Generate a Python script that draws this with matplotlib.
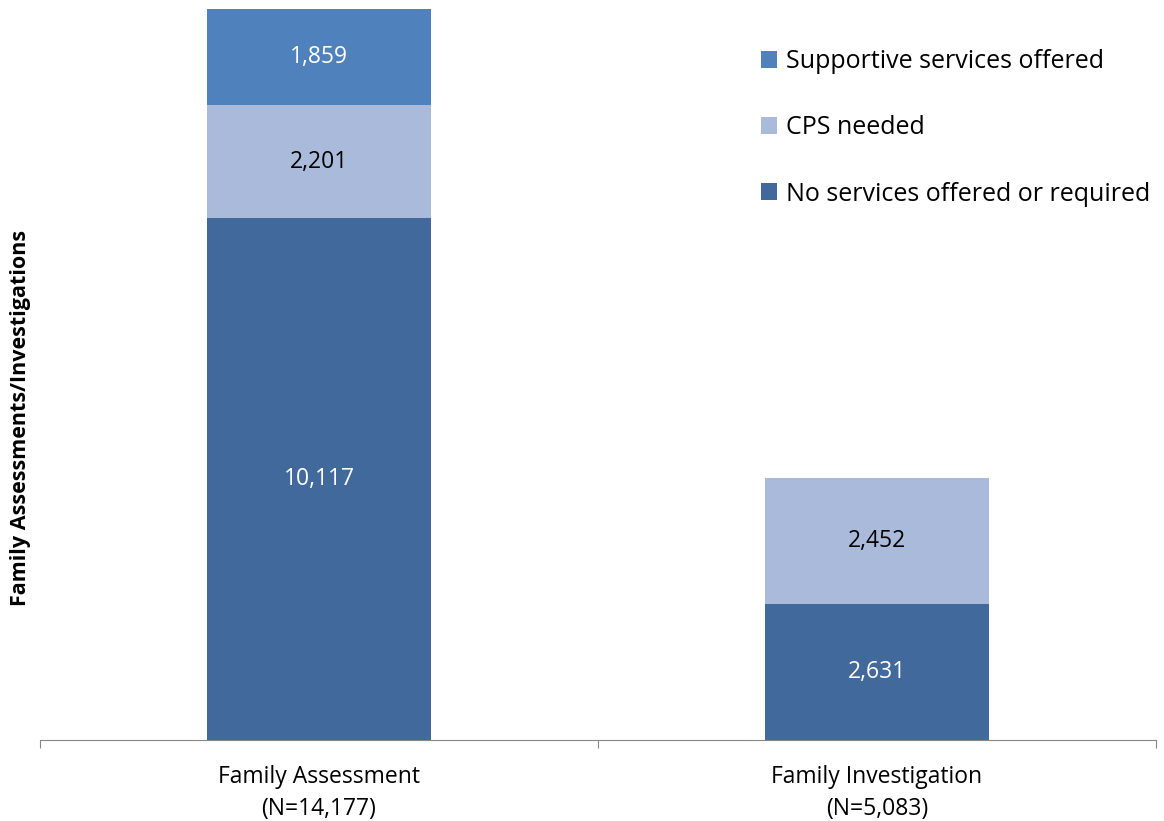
import matplotlib
matplotlib.use('Agg')
import matplotlib.pyplot as plt
import numpy as np

plt.rcParams['font.family'] = ['Open Sans', 'DejaVu Sans']

# datos
categories = ['Family Assessment\n(N=14,177)', 'Family Investigation\n(N=5,083)']
no_services = [10117, 2631]
cps_needed = [2201, 2452]
supportive = [1859, 0]

c_dark = '#41699C'
c_light = '#AABADA'
c_mid = '#4F81BD'

fig = plt.figure(figsize=(11.64, 8.21), dpi=100)
ax = fig.add_axes([0.0344, 0.0987, 0.9587, 0.8903])

x = np.arange(len(categories))
w = 0.4
b1 = ax.bar(x, no_services, w, color=c_dark, label='No services offered or required')
b2 = ax.bar(x, cps_needed, w, bottom=no_services, color=c_light, label='CPS needed')
bottom3 = np.array(no_services) + np.array(cps_needed)
b3 = ax.bar(x, supportive, w, bottom=bottom3, color=c_mid, label='Supportive services offered')

# etiquetas dentro de las barras
for bars, vals, col in [(b1, no_services, 'white'), (b2, cps_needed, 'black'), (b3, supportive, 'white')]:
    for rect, v in zip(bars, vals):
        if v == 0:
            continue
        ax.text(rect.get_x() + rect.get_width() / 2, rect.get_y() + rect.get_height() / 2,
                f'{v:,}', ha='center', va='center', color=col, fontsize=16.5)

ax.set_xlim(-0.5, 1.5)
ax.set_ylim(0, 14177)
ax.set_yticks([])
for s in ['top', 'right', 'left']:
    ax.spines[s].set_visible(False)
ax.spines['bottom'].set_color('#868686')

ax.set_xticks([-0.5, 0.5, 1.5])
ax.set_xticklabels([])
ax.set_xticks(x, minor=True)
ax.set_xticklabels(categories, minor=True, fontsize=16.5, linespacing=1.45)
ax.tick_params(axis='x', which='major', length=6, color='#868686', direction='out')
ax.tick_params(axis='x', which='minor', length=0, pad=18)

ax.set_ylabel('Family Assessments/Investigations', fontsize=15.5, fontweight='bold')
ax.yaxis.set_label_coords(-0.008, 0.44)

handles = [b3, b2, b1]
leg = ax.legend(handles, [h.get_label() for h in handles], loc='upper left',
                bbox_to_anchor=(0.6255, 0.976), frameon=False, fontsize=18,
                handlelength=0.65, handleheight=0.65, handletextpad=0.35, labelspacing=1.65)

plt.savefig('out.png', dpi=100)
